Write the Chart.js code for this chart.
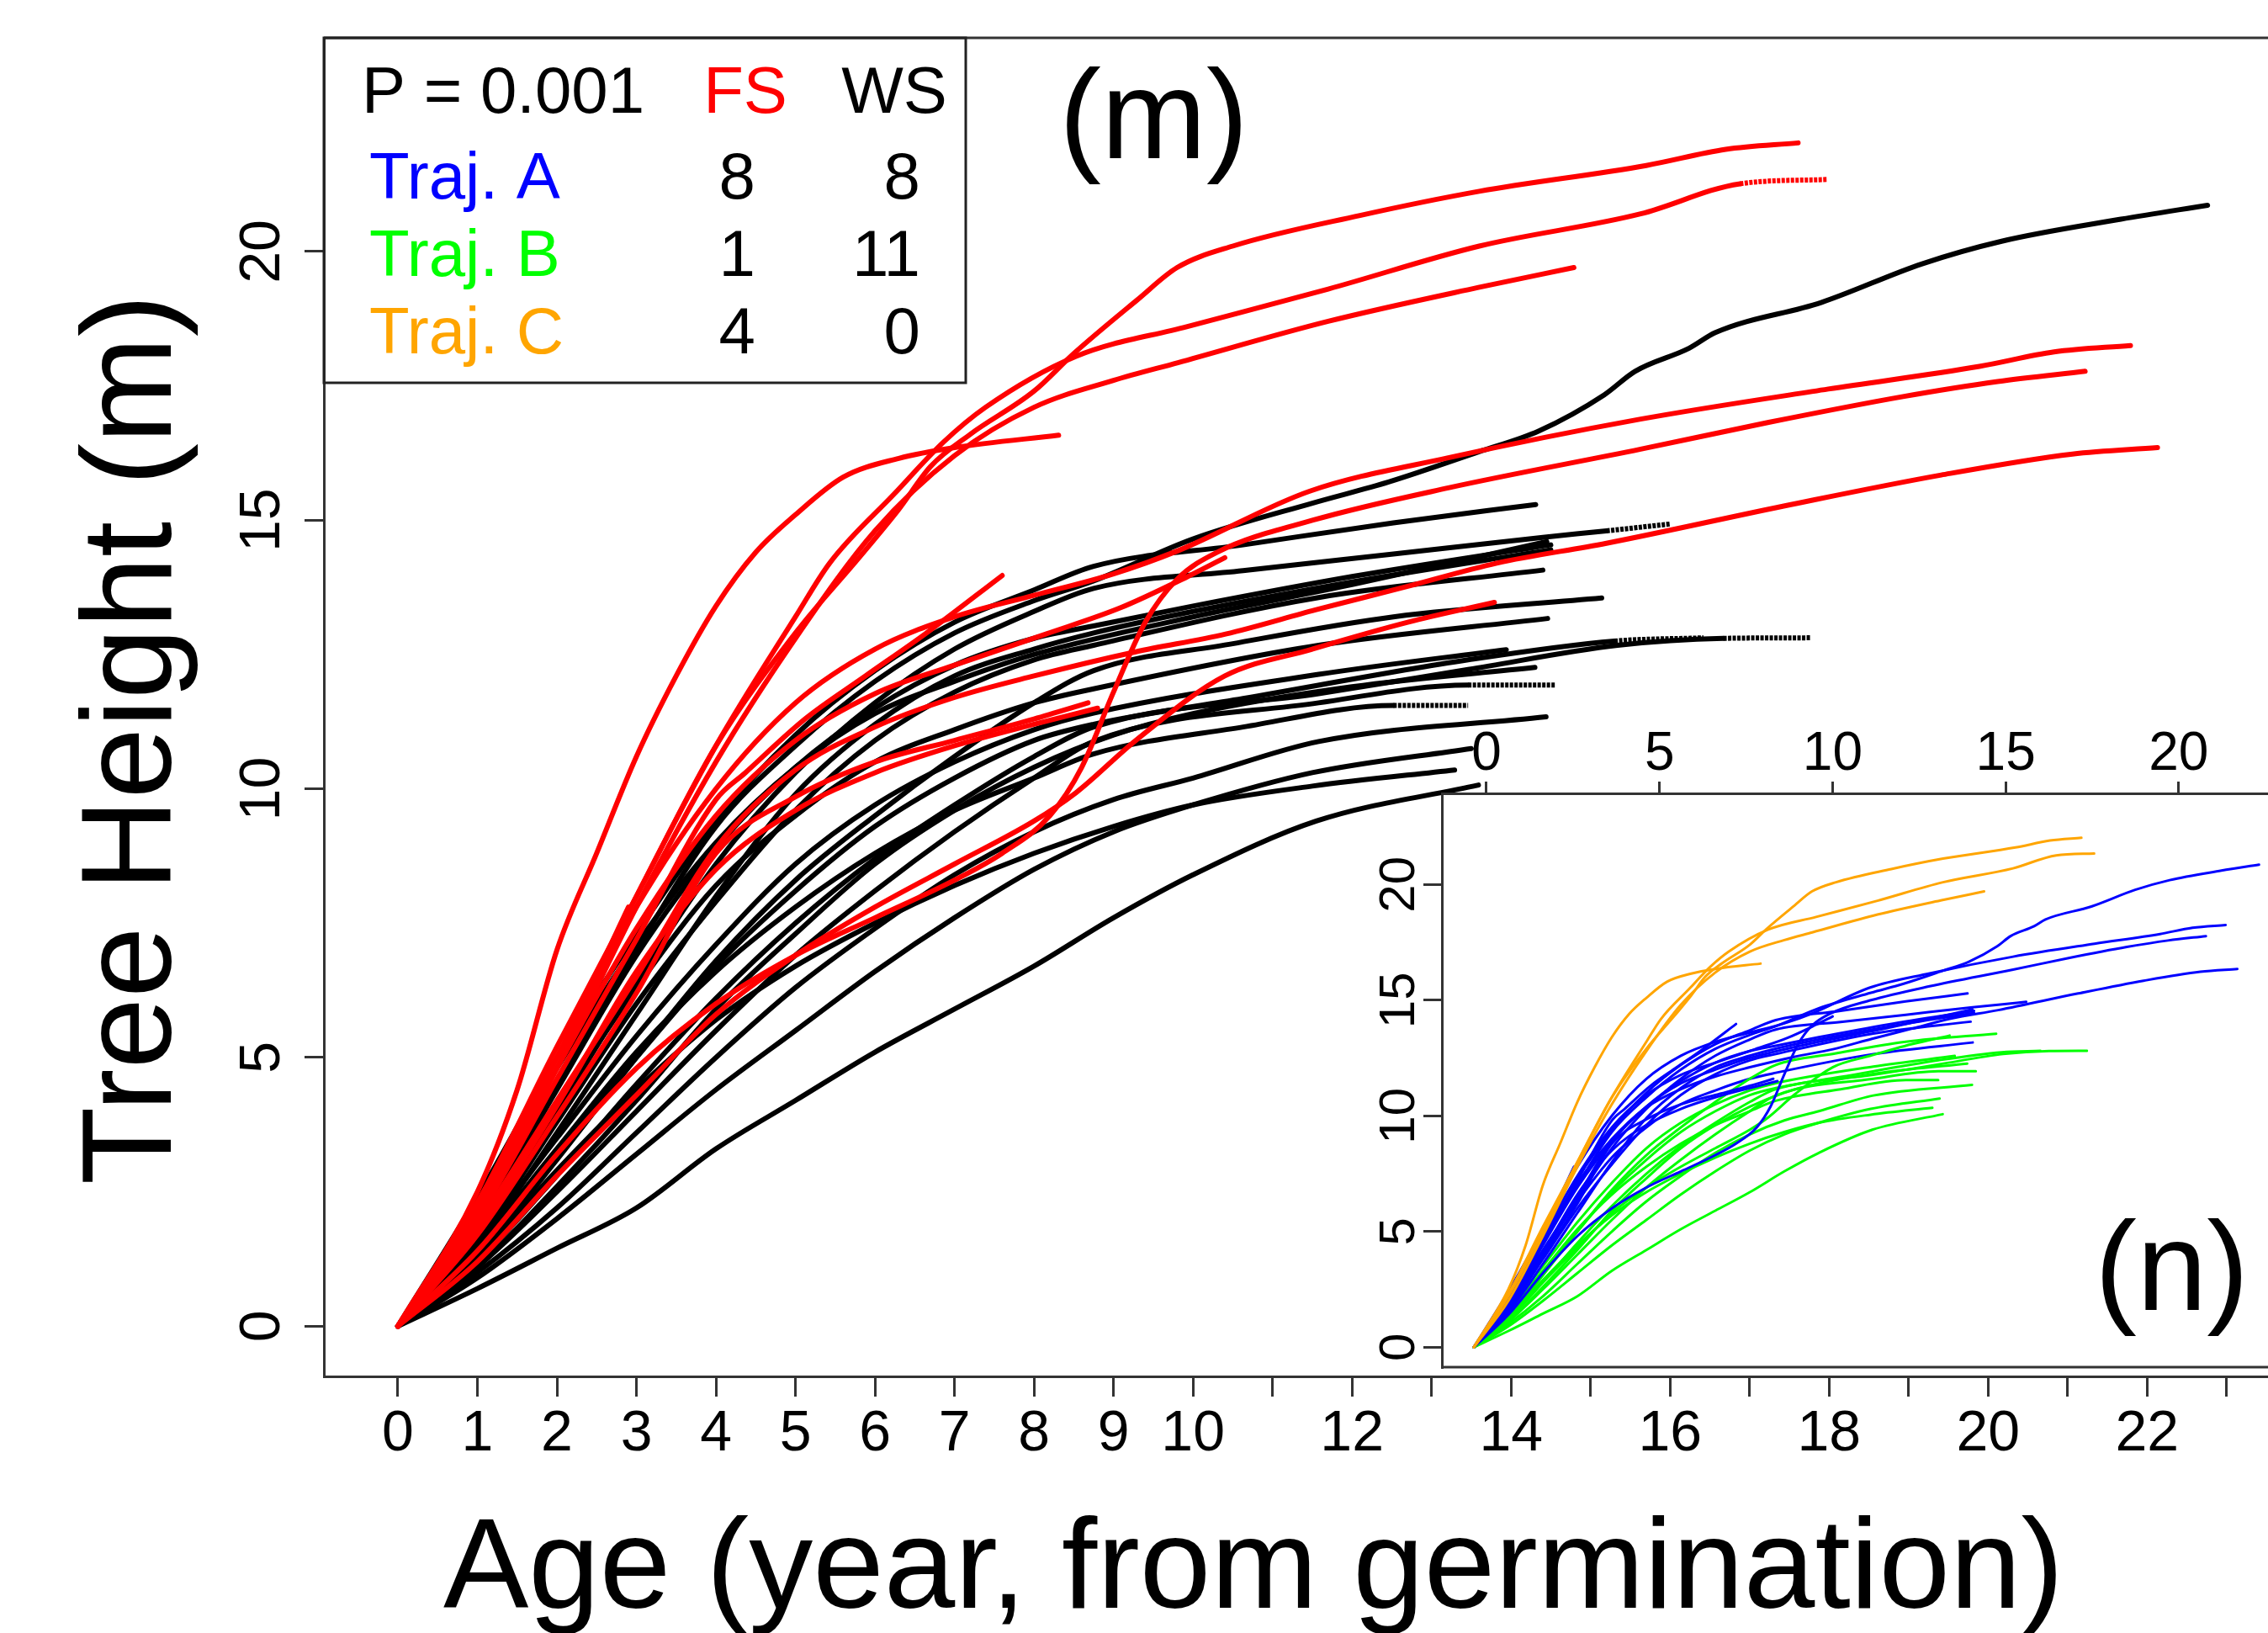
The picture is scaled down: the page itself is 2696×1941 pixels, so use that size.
<!DOCTYPE html>
<html><head><meta charset="utf-8">
<script src="https://cdn.jsdelivr.net/npm/chart.js@4.4.1/dist/chart.umd.min.js"></script>
<style>
html,body{margin:0;padding:0;background:#fff;overflow:hidden;}
#wrap{position:relative;width:2696px;height:1941px;}
#main{position:absolute;left:0;top:0;}
#inset{position:absolute;left:1600px;top:850px;}
</style></head><body>
<div id="wrap"><canvas id="main" width="2696" height="1941"></canvas><canvas id="inset" width="1096" height="800"></canvas></div>
<script>
// ---------- DATA (age in years, height in m) ----------
const X_TICK_LABELS = [0,1,2,3,4,5,6,7,8,9,10,12,14,16,18,20,22];
const Y_TICKS = [0,5,10,15,20];
const INSET_TOP_TICKS = [0,5,10,15,20];
const TRAJ_LABELS = ['Traj. A','Traj. B','Traj. C'];
const FS_COUNTS = [8,1,4];
const WS_COUNTS = [8,11,0];
const P_TEXT = 'P = 0.001';

// FS (red) trees
const red01 = [[0,0],[1,2.3],[2,5.2],[3,8.0],[4,10.8],[5,12.9],[5.8,14.3],[6.3,15.2],[6.7,16.0],[7.2,16.6],[8,17.4],[8.5,18.1],[9.3,19.1],[9.8,19.7],[10.5,20.1],[12.1,20.67],[13.6,21.12],[15.7,21.6],[16.7,21.9],[17.61,22.02]];
const red02 = [[0,0],[1,2.2],[2,5.0],[3,8.0],[4,10.8],[5,13.2],[5.43,14.2],[6.25,15.5],[6.86,16.45],[7.39,17.1],[8.53,18.05],[9.92,18.6],[11.7,19.3],[13.6,20.1],[15.63,20.7],[16.88,21.26],[17.98,21.34]];
const red03 = [[0,0],[1,2.0],[2,4.8],[3,7.8],[4,10.5],[5,12.8],[6,14.8],[7,16.2],[8,17.1],[9,17.6],[9.81,17.93],[11.7,18.7],[13.59,19.33],[14.79,19.7]];
const red04 = [[0,0],[1,2.5],[1.5,4.4],[2,7.0],[2.5,8.8],[3,10.6],[3.5,12.1],[4,13.4],[4.5,14.4],[5,15.1],[5.6,15.8],[6.3,16.15],[7,16.35],[8.31,16.58]];
const red05 = [[0,0],[1,2.2],[2,5.0],[3,7.8],[4,10.0],[5,11.6],[6,12.6],[7,13.2],[8,13.6],[9,14.0],[9.81,14.43],[11.47,15.54],[13.21,16.16],[15.63,16.88],[17.99,17.44],[19.89,17.86],[20.83,18.13],[21.79,18.25]];
const red06 = [[0,0],[1,1.4],[2,3.2],[3,4.8],[4,6.0],[5,6.9],[6,7.6],[7,8.3],[7.6,8.8],[8.2,9.5],[8.6,10.4],[9.0,11.8],[9.4,13.1],[9.8,13.9],[10.3,14.4],[11.51,15.0],[13.21,15.6],[15.63,16.32],[17.24,16.82],[18.93,17.3],[20.12,17.58],[21.22,17.77]];
const red07 = [[0,0],[1,1.9],[2,4.2],[3,6.5],[4,8.9],[5,10.35],[6,11.15],[7,11.7],[8,12.1],[9.28,12.55],[10.41,12.88],[11.54,13.33],[12.68,13.76],[13.82,14.2],[15.2,14.57],[17.52,15.29],[19.41,15.84],[21.06,16.23],[22.13,16.35]];
const red08 = [[0,0],[1,2.0],[2,4.6],[3,7.2],[4,9.8],[4.37,10.3],[5.12,11.3],[5.88,12.1],[6.63,12.88],[7.6,13.97]];
const red09 = [[0,0],[1,1.2],[2,2.8],[3,4.3],[4,5.8],[5,6.9],[6,7.8],[7,8.6],[8,9.4],[8.53,9.93],[9.28,10.9],[10.4,12.1],[11.5,12.6],[12.7,13.1],[13.79,13.47]];
const red10 = [[0,0],[1,1.7],[2,3.9],[3,6.2],[4,8.8],[5,9.85],[6,10.5],[7,10.9],[8,11.3],[8.68,11.6]];
const red11 = [[0,0],[1,2.3],[2,5.0],[2.9,7.8]];
const red12 = [[0,0],[1,1.8],[2,4.1],[3,6.6],[4,8.5],[5,9.6],[6,10.3],[7,10.8],[8,11.2],[8.8,11.5]];
const red13 = [[0,0],[1,2.1],[2,4.8],[3,7.4],[4,9.5],[5,10.9],[6,11.77],[7,12.3],[8.15,12.88],[9.09,13.37],[9.92,13.94],[10.4,14.3]];

// WS (black) trees
const black01 = [[0,0],[1,2.0],[2,4.5],[3,7.0],[4,9.3],[5,10.8],[6,12.0],[7,12.9],[8,13.5],[8.75,13.87],[10,14.65],[11.51,15.32],[12.46,15.71],[13.59,16.27],[14.35,16.66],[15.17,17.33],[15.56,17.77],[16.24,18.2],[16.57,18.49],[17.9,19.05],[19.17,19.77],[20.17,20.19],[21.67,20.6],[22.76,20.86]];
const black02 = [[0,0],[1,2.4],[2,5.0],[3,7.3],[4,9.4],[5,11.0],[6,12.2],[7,13.1],[8,13.7],[8.75,14.14],[10.63,14.54],[12.52,14.95],[14.31,15.29]];
const black03 = [[0,0],[1,1.7],[2,4.0],[3,6.4],[4,8.6],[5,10.3],[6,11.6],[7,12.6],[8,13.3],[8.75,13.73],[10.63,14.06],[12.52,14.37],[14.4,14.68],[15.2,14.8],[16.01,14.93]];
const black04 = [[0,0],[1,1.9],[2,4.4],[3,6.9],[4,8.9],[5,10.4],[6,11.5],[7,12.3],[8,12.8],[8.75,13.03],[10,13.4],[12,13.95],[14.5,14.54]];
const black05 = [[0,0],[1,1.5],[2,3.6],[3,5.8],[4,8.0],[5,9.9],[6,11.2],[7,12.1],[8,12.6],[8.75,12.9],[10,13.3],[12,13.85],[14.5,14.45]];
const black06 = [[0,0],[1,1.6],[2,3.8],[3,6.0],[4,7.9],[5,9.6],[6,10.9],[7,11.8],[8,12.4],[8.75,12.67],[11.58,13.56],[14.4,14.07]];
const black07 = [[0,0],[1,1.3],[2,3.1],[3,5.0],[4,6.8],[5,8.3],[6,9.5],[7,10.6],[8,11.6],[8.75,12.2],[10.5,12.7],[12.52,13.2],[15.14,13.55]];
const black08 = [[0,0],[1,1.8],[2,4.1],[3,6.3],[4,8.2],[5,9.5],[6,10.5],[7,11.1],[8,11.6],[8.75,11.86],[11.58,12.67],[14.46,13.17]];
const black09 = [[0,0],[1,1.2],[2,2.8],[3,4.5],[4,6.1],[5,7.5],[6,8.7],[7,9.7],[8,10.6],[8.75,11.15],[11.58,11.77],[13.46,12.22],[15.34,12.67],[16.67,12.8],[17.77,12.81]];
const black10 = [[0,0],[1,1.4],[2,3.2],[3,5.0],[4,6.7],[5,8.1],[6,9.3],[7,10.2],[8,10.9],[8.75,11.2],[10.63,11.68],[13.46,12.4],[15.3,12.75],[16.42,12.81]];
const black11 = [[0,0],[1,1.6],[2,3.5],[3,5.4],[4,7.1],[5,8.6],[6,9.7],[7,10.5],[8,11.1],[8.75,11.41],[11.58,12.13],[13.94,12.59]];
const black12 = [[0,0],[1,1.1],[2,2.5],[3,4.0],[4,5.5],[5,6.9],[6,8.1],[7,9.2],[8,10.2],[8.75,10.88],[11.58,11.6],[13.46,11.93],[14.55,11.93]];
const black13 = [[0,0],[1,1.5],[2,3.3],[3,5.1],[4,6.6],[5,7.8],[6,8.8],[7,9.6],[8,10.2],[8.75,10.65],[10.63,11.15],[12.52,11.55],[13.46,11.55]];
const black14 = [[0,0],[1,1.0],[2,2.2],[3,3.6],[4,5.0],[5,6.3],[6,7.4],[7,8.4],[8,9.2],[9,9.8],[10,10.2],[11.58,10.88],[14.44,11.34]];
const black15 = [[0,0],[1,1.3],[2,2.9],[3,4.4],[4,5.7],[5,6.7],[6,7.5],[7,8.2],[8,8.8],[9,9.3],[10,9.7],[11.5,10.05],[13.29,10.35]];
const black16 = [[0,0],[1,0.7],[2,1.45],[3,2.2],[4,3.3],[5,4.2],[6,5.1],[7,5.9],[8,6.7],[9,7.6],[10,8.4],[11.55,9.4],[13.59,10.07]];
const black17 = [[0,0],[1,0.9],[2,2.0],[3,3.2],[4,4.4],[5,5.5],[6,6.6],[7,7.6],[8,8.5],[9,9.2],[10,9.7],[11.5,10.3],[13.5,10.75]];
const black18 = [[0,0],[1,2.2],[2,4.8],[3,7.1],[4,9.0],[5,10.4],[6,11.4],[7,12.0],[8,12.5],[10,13.2],[12,13.8],[14.45,14.6]];
const black19 = [[0,0],[1,1.1],[2,2.6],[3,4.2],[4,5.9],[5,7.3],[6,8.6],[7,9.6],[8,10.4],[9,11.0],[10,11.4],[12,11.9],[14.3,12.26]];

// tree list: series, site, trajectory group, age from which the record is extrapolated (dotted)
const TREES = [
  [red01,'FS','C',null],[red02,'FS','C',16.88],[red03,'FS','C',null],[red04,'FS','C',null],
  [red05,'FS','A',null],[red06,'FS','A',null],[red07,'FS','A',null],[red08,'FS','A',null],
  [red09,'FS','B',null],[red10,'FS','A',null],[red11,'FS','A',null],[red12,'FS','A',null],[red13,'FS','A',null],
  [black01,'WS','A',null],[black02,'WS','A',null],[black03,'WS','A',15.2],[black04,'WS','A',null],
  [black05,'WS','A',null],[black06,'WS','A',null],[black07,'WS','B',null],[black08,'WS','A',null],
  [black09,'WS','B',16.67],[black10,'WS','B',15.3],[black11,'WS','B',null],[black12,'WS','B',13.46],
  [black13,'WS','B',12.52],[black14,'WS','B',null],[black15,'WS','B',null],[black16,'WS','B',null],
  [black17,'WS','B',null],[black18,'WS','A',null],[black19,'WS','B',null]
];

// ---------- STYLE ----------
const FONT = "'Liberation Sans', Arial, Helvetica, sans-serif";
Chart.defaults.font.family = FONT;
Chart.defaults.color = '#000';
const SITE_COL = {FS:'#ff0000', WS:'#000000'};
const GRP_COL = {A:'#0000ff', B:'#00ff00', C:'#ffa500'};
const AXIS_COL = '#333333';

function makeDatasets(colFn, width, dotted) {
  return TREES.map(t => {
    const pts = t[0], dot = t[3];
    const ds = {
      data: pts.map(p => ({x:p[0], y:p[1]})),
      borderColor: colFn(t), borderWidth: width,
      pointRadius: 0, pointHoverRadius: 0, fill: false,
      cubicInterpolationMode: 'monotone',
      borderCapStyle: 'round', borderJoinStyle: 'round'
    };
    if (dotted && dot !== null) {
      ds.segment = {
        borderDash: ctx => ctx.p0.parsed.x >= dot - 1e-6 ? [4,1.5] : undefined,
        borderCapStyle: ctx => ctx.p0.parsed.x >= dot - 1e-6 ? 'butt' : 'round'
      };
    }
    return ds;
  });
}

// main plot data limits
const MX_MIN = -0.931, MX_MAX = 23.52;
const MY_MIN = -0.935, MY_MAX = 23.975;

const mainDecor = {
  id: 'mainDecor',
  afterDraw(chart) {
    const ctx = chart.ctx, ca = chart.chartArea;
    ctx.save();
    ctx.strokeStyle = AXIS_COL; ctx.lineWidth = 3;
    ctx.beginPath(); ctx.moveTo(ca.left, ca.top); ctx.lineTo(ca.right, ca.top); ctx.stroke();
    ctx.fillStyle = '#fff';
    ctx.fillRect(ca.left + 2, ca.top + 2, 1148 - ca.left - 3, 455 - ca.top - 3);
    ctx.strokeStyle = '#222'; ctx.lineWidth = 3;
    ctx.strokeRect(ca.left, ca.top, 1148 - ca.left, 455 - ca.top);
    ctx.font = '78px ' + FONT; ctx.textBaseline = 'alphabetic';
    ctx.textAlign = 'left'; ctx.fillStyle = '#000';
    ctx.fillText(P_TEXT, 430, 134);
    ctx.textAlign = 'center';
    ctx.fillStyle = SITE_COL.FS; ctx.fillText('FS', 886, 134);
    ctx.fillStyle = '#000'; ctx.fillText('WS', 1063, 134);
    const rowY = [236, 328, 420];
    const grpKeys = ['A','B','C'];
    for (let i = 0; i < 3; i++) {
      ctx.textAlign = 'left'; ctx.fillStyle = GRP_COL[grpKeys[i]];
      ctx.fillText(TRAJ_LABELS[i], 439, rowY[i]);
      ctx.textAlign = 'right'; ctx.fillStyle = '#000';
      ctx.fillText(String(FS_COUNTS[i]), 898, rowY[i]);
      ctx.fillText(String(WS_COUNTS[i]), 1094, rowY[i]);
    }
    ctx.font = '150px ' + FONT; ctx.textAlign = 'left'; ctx.fillStyle = '#000';
    ctx.fillText('(m)', 1259, 188);
    ctx.font = '152px ' + FONT; ctx.textAlign = 'center';
    ctx.fillText('Age (year, from germination)', 1490, 1911);
    ctx.translate(203, 879); ctx.rotate(-Math.PI / 2);
    ctx.fillText('Tree Height (m)', 0, 0);
    ctx.restore();
  }
};

new Chart(document.getElementById('main'), {
  type: 'line',
  data: { datasets: makeDatasets(t => SITE_COL[t[1]], 6, true) },
  options: {
    responsive: false, animation: false, devicePixelRatio: 1,
    layout: { padding: { top: 38, left: 0, right: 0, bottom: 0 } },
    plugins: { legend: { display: false }, tooltip: { enabled: false } },
    events: [],
    scales: {
      x: {
        type: 'linear', min: MX_MIN, max: MX_MAX,
        afterFit: s => { s.height = 305; },
        grid: { drawOnChartArea: false, drawTicks: true, tickLength: 24, tickWidth: 3, tickColor: AXIS_COL },
        border: { display: true, color: AXIS_COL, width: 3 },
        ticks: {
          stepSize: 1, includeBounds: false, autoSkip: false, maxRotation: 0, minRotation: 0,
          padding: 11, color: '#000', font: { size: 68, lineHeight: 1 },
          callback: v => X_TICK_LABELS.includes(v) ? String(v) : ''
        }
      },
      y: {
        type: 'linear', min: MY_MIN, max: MY_MAX,
        afterFit: s => { s.width = 385; },
        grid: { drawOnChartArea: false, drawTicks: true, tickLength: 23, tickWidth: 3, tickColor: AXIS_COL },
        border: { display: true, color: AXIS_COL, width: 3 },
        ticks: {
          stepSize: 5, includeBounds: false, autoSkip: false, minRotation: 90, maxRotation: 90,
          crossAlign: 'center', padding: 11, color: '#000', font: { size: 68, lineHeight: 1 },
          callback: v => Y_TICKS.includes(v) ? String(v) : ''
        }
      }
    }
  },
  plugins: [mainDecor]
});

// ---------- INSET (n) ----------
const insetDecor = {
  id: 'insetDecor',
  beforeDraw(chart) {
    const ctx = chart.ctx, ca = chart.chartArea;
    ctx.save(); ctx.fillStyle = '#fff';
    ctx.fillRect(ca.left, ca.top, ca.right - ca.left, ca.bottom - ca.top);
    ctx.restore();
  },
  afterDraw(chart) {
    const ctx = chart.ctx, ca = chart.chartArea;
    ctx.save();
    ctx.strokeStyle = AXIS_COL; ctx.lineWidth = 3;
    ctx.beginPath(); ctx.moveTo(ca.left, ca.bottom - 1); ctx.lineTo(ca.right, ca.bottom - 1); ctx.stroke();
    ctx.font = '150px ' + FONT; ctx.textAlign = 'left'; ctx.textBaseline = 'alphabetic'; ctx.fillStyle = '#000';
    ctx.fillText('(n)', 890, 707);
    ctx.restore();
  }
};

new Chart(document.getElementById('inset'), {
  type: 'line',
  data: { datasets: makeDatasets(t => GRP_COL[t[2]], 3, false) },
  options: {
    responsive: false, animation: false, devicePixelRatio: 1,
    layout: { padding: { top: 0, left: 0, right: 0, bottom: 13 } },
    plugins: { legend: { display: false }, tooltip: { enabled: false } },
    events: [],
    scales: {
      x: { type: 'linear', min: -0.927, max: 23.02, display: false },
      x2: {
        type: 'linear', position: 'top', axis: 'x', min: -1.288, max: 22.58,
        afterFit: s => { s.height = 93; },
        grid: { drawOnChartArea: false, drawTicks: true, tickLength: 14, tickWidth: 3, tickColor: AXIS_COL },
        border: { display: true, color: AXIS_COL, width: 3 },
        ticks: {
          stepSize: 5, includeBounds: false, autoSkip: false, maxRotation: 0, minRotation: 0,
          padding: 0, color: '#000', font: { size: 64, lineHeight: 1 },
          callback: v => INSET_TOP_TICKS.includes(v) ? String(v) : ''
        }
      },
      y: {
        type: 'linear', min: -0.9, max: 23.94,
        afterFit: s => { s.width = 114; },
        grid: { drawOnChartArea: false, drawTicks: true, tickLength: 22, tickWidth: 3, tickColor: AXIS_COL },
        border: { display: true, color: AXIS_COL, width: 3 },
        ticks: {
          stepSize: 5, includeBounds: false, autoSkip: false, minRotation: 90, maxRotation: 90,
          crossAlign: 'center', padding: -6, color: '#000', font: { size: 60, lineHeight: 1 },
          callback: v => Y_TICKS.includes(v) ? String(v) : ''
        }
      }
    }
  },
  plugins: [insetDecor]
});
</script>
</body></html>
